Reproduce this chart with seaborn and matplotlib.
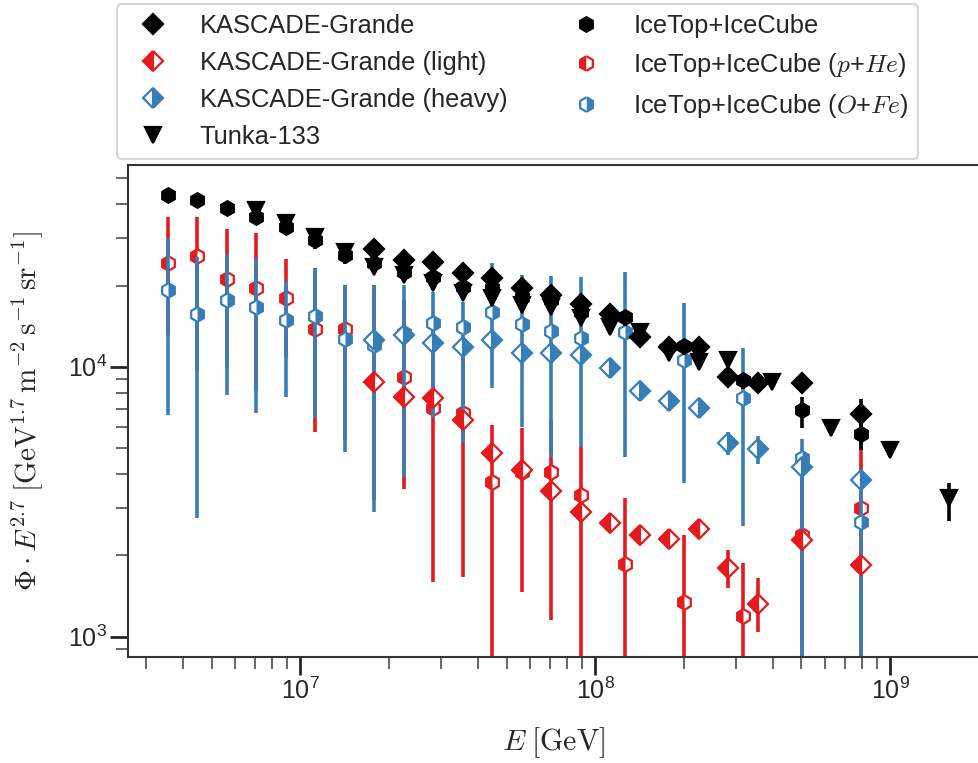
import numpy as np
import matplotlib
matplotlib.use("Agg")
import matplotlib.pyplot as plt
from matplotlib.lines import Line2D
import seaborn as sns

# ---------------- data ----------------
RED = "#e41a1c"
BLUE = "#377eb8"

# IceTop+IceCube energies (log10 E/GeV)
logE_it = [6.55, 6.65, 6.75, 6.85, 6.95, 7.05, 7.15, 7.25, 7.35, 7.45, 7.55, 7.65,
           7.75, 7.85, 7.95, 8.1, 8.3, 8.5, 8.7, 8.9]
it_all = [43240, 41430, 38800, 35940, 33000, 29460, 25930, 24220, 22480, 21490, 19780,
          19500, 18170, 17660, 15980, 15310, 11930, 8930, 6910, 5630]
it_all_lo = [40500, 38600, 36200, 33400, 30700, 27400, 24100, 22500, 20900, 20000, 18400,
             18200, 16900, 16400, 14900, 14200, 11100, 8300, 5930, 4900]
it_all_hi = [44900, 43000, 40300, 37300, 34300, 30600, 26900, 25100, 23300, 22300, 20500,
             20300, 18900, 18300, 16600, 15900, 12400, 9300, 7730, 6300]

it_phe = [24150, 25770, 21120, 19510, 17920, 13750, 13750, 12560, 9180, 7015, 6720, 3750,
          4084, 4084, 3348, 1854, 1348, 1193, 2380, 2989]
it_phe_lo = [13100, 9720, 9975, 8200, 10860, 5715, 5353, 3209, 3515, 1599, 1668, 300,
             1468, 1153, 300, 300, 300, 300, 300, 300]
it_phe_hi = [35940, 35940, 32360, 31200, 25050, 23210, 20070, 20070, 17660, 13670, 12560, 6083,
             5911, 6350, 5055, 3272, 2380, 1875, 4144, 5275]

it_ofe = [19230, 15670, 17660, 16680, 14890, 15450, 12660, 12030, 13330, 14480, 14060, 15980,
          14390, 13590, 12740, 13480, 10590, 7640, 4577, 2667]
it_ofe_lo = [6625, 2746, 7857, 6720, 7700, 6457, 4843, 2904, 3913, 6457, 5203, 8318,
             5995, 4642, 5055, 4642, 3699, 2570, 300, 300]
it_ofe_hi = [29890, 25560, 26150, 25050, 20770, 23140, 20070, 20070, 20070, 18960, 17410, 24150,
             21860, 21670, 21540, 22480, 17260, 11760, 5384, 4000]

# KASCADE-Grande
logE_kg = [7.25, 7.35, 7.45, 7.55, 7.65, 7.75, 7.85, 7.95, 8.05, 8.15, 8.25, 8.35,
           8.45, 8.55, 8.7, 8.9]
kg_all = [27210, 24850, 24490, 22180, 21250, 19510, 18430, 17070, 15670, 12920, 11800, 11860,
          9180, 8720, 8720, 6660]
kg_all_lo = [26400, 24100, 23800, 21500, 20600, 18900, 17900, 16500, 15200, 12500, 11400, 11400,
             8850, 8400, 8400, 5900]
kg_all_hi = [28000, 25600, 25200, 22900, 21900, 20100, 19000, 17600, 16200, 13300, 12200, 12300,
             9500, 9050, 9050, 7590]

kg_light = [8800, 7740, 7640, 6350, 4800, 4140, 3470, 2900, 2630, 2380, 2310, 2500,
            1800, 1320, 2280, 1840]
kg_light_lo = [8400, 7400, 7300, 6050, 4550, 3920, 3290, 2740, 2480, 2230, 2150, 2330,
               1515, 1040, 2150, 1740]
kg_light_hi = [9200, 8100, 8000, 6650, 5050, 4360, 3650, 3060, 2790, 2530, 2470, 2680,
               2095, 1650, 2420, 1950]

kg_heavy = [12560, 13100, 12210, 11800, 12560, 11270, 11270, 11050, 9865, 8150, 7480, 7015,
            5200, 4940, 4260, 3800]
kg_heavy_lo = [12200, 12700, 11850, 11450, 12200, 10900, 10900, 10700, 9550, 7850, 7150, 6700,
               4710, 4360, 4050, 3600]
kg_heavy_hi = [12950, 13500, 12600, 12150, 12950, 11650, 11650, 11400, 10200, 8450, 7800, 7350,
               5740, 5540, 4480, 4010]

# Tunka-133
logE_tk = [6.85, 6.95, 7.05, 7.15, 7.25, 7.35, 7.45, 7.55, 7.65, 7.75, 7.85, 7.95, 8.05,
           8.15, 8.25, 8.35, 8.45, 8.6, 8.8, 9.0, 9.2]
tunka = [38050, 34150, 30220, 26670, 23460, 21860, 20420, 18750, 17970, 16920, 16640, 15150,
         14030, 13450, 11240, 10410, 10590, 8780, 5930, 4910, 3270]
tunka_lo = [37000, 33200, 29300, 25900, 22800, 21200, 19800, 18200, 17400, 16400, 16100, 14700,
            13600, 13000, 10900, 10100, 10250, 8500, 5750, 4760, 2683]
tunka_hi = [39200, 35200, 31100, 27500, 24200, 22500, 21000, 19300, 18500, 17400, 17100, 15600,
            14450, 13850, 11600, 10750, 10950, 9050, 6110, 5060, 3710]

labels = ["KASCADE-Grande", "KASCADE-Grande (light)", "KASCADE-Grande (heavy)", "Tunka-133",
          "IceTop+IceCube", r"IceTop+IceCube ($p$+$He$)", r"IceTop+IceCube ($O$+$Fe$)"]

# ---------------- style ----------------
sns.set_theme(style="ticks")
plt.rcParams["font.family"] = ["Liberation Sans", "DejaVu Sans"]
plt.rcParams["mathtext.fontset"] = "cm"
plt.rcParams["axes.edgecolor"] = "0.2"
plt.rcParams["axes.linewidth"] = 1.5

fig = plt.figure(figsize=(9.79, 7.63), dpi=100)
ax = fig.add_axes([0.1307, 0.1393, 0.8693, 0.6444])


def draw(logE, val, lo, hi, marker, color, fill, ms, z, alt="white"):
    x = 10 ** np.asarray(logE)
    v = np.asarray(val, float)
    err = np.vstack([v - np.asarray(lo, float), np.asarray(hi, float) - v])
    ax.errorbar(x, v, yerr=err, fmt=marker, color=color, ecolor=color,
                fillstyle=fill, markerfacecolor=color, markerfacecoloralt=alt,
                markeredgecolor=color, markeredgewidth=1.6, ms=ms,
                elinewidth=2.6, capsize=0, zorder=z)


draw(logE_it, it_phe, it_phe_lo, it_phe_hi, "h", RED, "left", 10.5, 2)
draw(logE_it, it_ofe, it_ofe_lo, it_ofe_hi, "h", BLUE, "right", 10.5, 2.1)
draw(logE_kg, kg_light, kg_light_lo, kg_light_hi, "D", RED, "left", 10, 3)
draw(logE_kg, kg_heavy, kg_heavy_lo, kg_heavy_hi, "D", BLUE, "right", 10, 3.1)
draw(logE_tk, tunka, tunka_lo, tunka_hi, "v", "black", "full", 11, 4)
draw(logE_it, it_all, it_all_lo, it_all_hi, "h", "black", "full", 10.5, 4.1)
draw(logE_kg, kg_all, kg_all_lo, kg_all_hi, "D", "black", "full", 10, 4.2)

ax.set_xscale("log")
ax.set_yscale("log")
ax.set_xlim(2.6e6, 2.0e9)
ax.set_ylim(843, 5.59e4)
ax.spines["right"].set_visible(False)

ax.tick_params(which="major", length=13, width=2, labelsize=18, pad=2, color="0.15")
ax.tick_params(which="minor", length=8.5, width=1.2, color="0.3")

ax.set_xlabel(r"$E\;[\mathrm{GeV}]$", fontsize=21.5)
ax.set_ylabel(r"$\Phi \cdot E^{2.7}\;[\mathrm{GeV}^{1.7}\,\mathrm{m}^{-2}\,\mathrm{s}^{-1}\,\mathrm{sr}^{-1}]$",
              fontsize=21)
ax.xaxis.set_label_coords(0.5, -0.14)
ax.yaxis.set_label_coords(-0.098, 0.5)

# legend (markers only)
def h(marker, color, fill, ms):
    return Line2D([], [], ls="none", marker=marker, color=color, fillstyle=fill,
                  markerfacecolor=color, markerfacecoloralt="white", markeredgecolor=color,
                  markeredgewidth=1.6, ms=ms)

handles = [h("D", "black", "full", 10), h("D", RED, "left", 10), h("D", BLUE, "right", 10),
           h("v", "black", "full", 11), h("h", "black", "full", 10.5),
           h("h", RED, "left", 10.5), h("h", BLUE, "right", 10.5)]
leg = fig.legend(handles, labels, ncol=2, loc="upper left",
                 bbox_to_anchor=(117 / 979, 1 - 4 / 763), fontsize=18.4, frameon=True,
                 handlelength=2.0, handletextpad=0.84, borderpad=0.4, labelspacing=0.5,
                 columnspacing=2.08, borderaxespad=0, fancybox=True)
leg.get_frame().set_edgecolor("0.8")
leg.get_frame().set_linewidth(1.5)

fig.savefig("out.png", dpi=100)
